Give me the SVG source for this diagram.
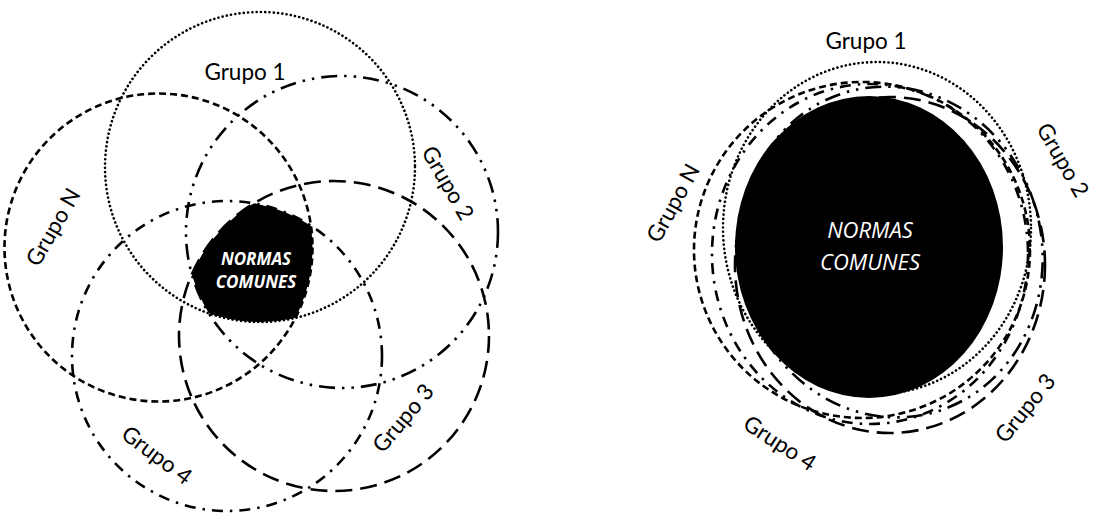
<svg xmlns="http://www.w3.org/2000/svg" width="1094" height="516" viewBox="0 0 1094 516">
<style>
.c{fill:none;stroke:#000;stroke-width:2.6}
.dot{stroke-dasharray:0.1 4.2;stroke-linecap:round;stroke-width:2.6}
.sd{stroke-dasharray:7 4}
.ddd{stroke-dasharray:16 7 2.5 7 2.5 7}
.ld{stroke-dasharray:17 8}
.dd{stroke-dasharray:11 7 2.5 7}
.lbl{font-family:Lato,"Open Sans",sans-serif;font-size:22.5px;fill:#000;text-anchor:middle}
.nl{font-family:"Open Sans",sans-serif;font-style:italic;fill:#fff;text-anchor:middle}
</style>
<defs>
<clipPath id="k1"><circle cx="260" cy="167" r="155"/></clipPath>
<clipPath id="kN"><circle cx="158.5" cy="247.5" r="154"/></clipPath>
<clipPath id="k2"><circle cx="342" cy="232" r="156"/></clipPath>
<clipPath id="k3"><circle cx="334" cy="336" r="155"/></clipPath>
<clipPath id="k4"><circle cx="227" cy="356" r="155"/></clipPath>
</defs>
<rect width="1094" height="516" fill="#fff"/>

<g id="left-grupo1">
<circle class="c dot" cx="260" cy="167" r="155"/>
<text class="lbl" x="245" y="80">Grupo 1</text>
</g>
<g id="left-grupoN">
<circle class="c sd" cx="158.5" cy="247.5" r="154"/>
<text class="lbl" transform="translate(53,227) rotate(-60)" y="8">Grupo N</text>
</g>
<g id="left-grupo2">
<circle class="c ddd" cx="342" cy="232" r="156"/>
<text class="lbl" transform="translate(448,183) rotate(60)" y="8">Grupo 2</text>
</g>
<g id="left-grupo3">
<circle class="c ld" cx="334" cy="336" r="155"/>
<text class="lbl" transform="translate(403,418) rotate(-50)" y="8">Grupo 3</text>
</g>
<g id="left-grupo4">
<circle class="c dd" cx="227" cy="356" r="155"/>
<text class="lbl" transform="translate(157,455) rotate(37)" y="8">Grupo 4</text>
</g>

<g id="left-common">
<g clip-path="url(#k1)"><g clip-path="url(#kN)"><g clip-path="url(#k2)"><g clip-path="url(#k3)"><g clip-path="url(#k4)">
<rect x="0" y="0" width="520" height="516" fill="#000"/>
</g></g></g></g></g>
<text class="nl" x="256" y="265" font-size="17" font-weight="bold">NORMAS</text>
<text class="nl" x="256" y="288" font-size="17" font-weight="bold">COMUNES</text>
</g>

<g id="right-common">
<ellipse cx="869" cy="247" rx="134" ry="151" fill="#000"/>
<text class="nl" x="870" y="238" font-size="22">NORMAS</text>
<text class="nl" x="870" y="270" font-size="22">COMUNES</text>
</g>
<g id="right-grupo1">
<ellipse class="c dot" cx="877" cy="228" rx="154" ry="166"/>
<text class="lbl" x="866" y="49">Grupo 1</text>
</g>
<g id="right-grupoN">
<ellipse class="c sd" cx="862" cy="250" rx="168" ry="168"/>
<text class="lbl" transform="translate(673,203) rotate(-61)" y="8">Grupo N</text>
</g>
<g id="right-grupo2">
<ellipse class="c ddd" cx="891" cy="252" rx="151" ry="166" transform="rotate(-12 891 252)"/>
<text class="lbl" transform="translate(1063,160) rotate(60)" y="8">Grupo 2</text>
</g>
<g id="right-grupo3">
<ellipse class="c ld" cx="890" cy="265" rx="155" ry="168"/>
<text class="lbl" transform="translate(1025,408) rotate(-51)" y="8">Grupo 3</text>
</g>
<g id="right-grupo4">
<ellipse class="c dd" cx="870" cy="254" rx="158" ry="170"/>
<text class="lbl" transform="translate(780,443) rotate(33)" y="8">Grupo 4</text>
</g>
<g id="connectors"/>
</svg>
